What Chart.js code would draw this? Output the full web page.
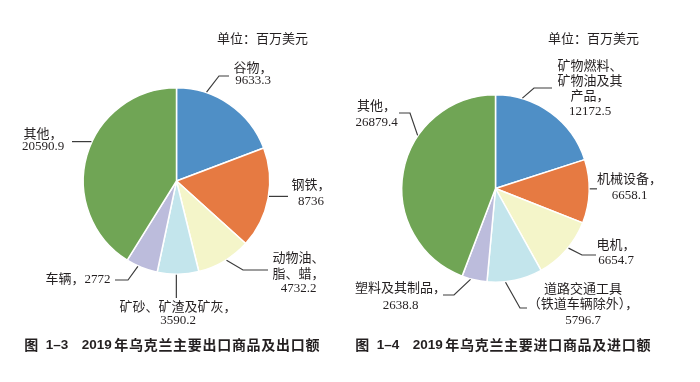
<!DOCTYPE html>
<html>
<head>
<meta charset="utf-8">
<script src="https://cdn.jsdelivr.net/npm/chart.js@4/dist/chart.umd.min.js"></script>
<style>
  html, body { margin: 0; padding: 0; background: #ffffff; }
  #wrap { position: relative; width: 700px; height: 382px; overflow: hidden; background: #fff; }
  canvas { position: absolute; top: 0; }
  #c1 { left: 0; }
  #c2 { left: 350px; }
</style>
</head>
<body>
<div id="wrap">
  <canvas id="c1" width="350" height="382"></canvas>
  <canvas id="c2" width="350" height="382"></canvas>
</div>
<script>
// ---------------- data ----------------
const exportCategories = ['谷物', '钢铁', '动物油、\n脂、蜡', '矿砂、矿渣及矿灰', '车辆', '其他'];
const exportValues = [9633.3, 8736, 4732.2, 3590.2, 2772, 20590.9];
const importCategories = ['矿物燃料、\n矿物油及其\n产品', '机械设备', '电机', '道路交通工具\n（铁道车辆除外）', '塑料及其制品', '其他'];
const importValues = [12172.5, 6658.1, 6654.7, 5796.7, 2638.8, 26879.4];
const unitText = '单位：百万美元';
const exportTitle = ['图', '1–3', '2019', '年乌克兰主要出口商品及出口额'];
const importTitle = ['图', '1–4', '2019', '年乌克兰主要进口商品及进口额'];

// ---------------- style ----------------
const sliceColors = ['#4f8fc6', '#e67a42', '#f4f5c9', '#c3e5ec', '#bcbcdc', '#70a555'];
const LABEL_FONT = "13px 'Liberation Serif', 'Noto Sans CJK SC', serif";
const TITLE_CJK_FONT = "bold 14px 'Noto Sans CJK SC', sans-serif";
const TITLE_NUM_FONT = "bold 13.5px 'Liberation Sans', sans-serif";
const TEXT_COLOR = '#231f20';
const LEADER_COLOR = '#3c3c3c';

// label layout: f = fraction along arc where leader starts, path = leader points ('s' = same as start),
// cx = text centre x, ys = line centre y's
const exportLayout = [
  { f: 0.27, path: [[219, 76], [229, 76]], cx: 253, ys: [68.5, 81] },
  { f: 0.48, path: [[288, 's']], cx: 311, ys: [186, 201.5] },
  { f: 0.46, path: [[243, 270], [268, 270]], cx: 298.5, ys: [259, 275, 289] },
  { f: 0.54, path: [['s', 298]], cx: 178, ys: [308, 321] },
  { f: 0.62, path: [[128, 280], [115, 280]], cx: 78, ys: [280], inline: true },
  { f: 0.56, path: [[72, 's']], cx: 43, ys: [135, 147] }
];
const importLayout = [
  { f: 0.23, path: [[184, 88], [202, 88]], cx: 240, ys: [66.5, 82, 97, 112] },
  { f: 0.46, path: [[247, 's']], cx: 279.5, ys: [179.5, 195.5] },
  { f: 0.45, path: [[232, 255], [246, 255]], cx: 266, ys: [246, 261] },
  { f: 0.67, path: [[170, 308], [177, 308]], cx: 233, ys: [290, 305, 321] },
  { f: 0.65, path: [[104, 295], [93, 295]], cx: 50.5, ys: [289, 305.5] },
  { f: 0.65, path: [[60, 113], [49, 113]], cx: 26.5, ys: [106.7, 123] }
];
const titleX = [24.3, 45.7, 81.7, 114.3];

const pieLabels = {
  id: 'pieLabels',
  afterDraw(chart, args, opts) {
    const ctx = chart.ctx;
    const meta = chart.getDatasetMeta(0);
    const cats = chart.data.labels;
    const vals = chart.data.datasets[0].data;
    ctx.save();
    ctx.fillStyle = TEXT_COLOR;
    ctx.font = LABEL_FONT;
    ctx.textAlign = 'center';
    ctx.textBaseline = 'middle';
    ctx.fillText(unitText, opts.unitX, opts.unitY);

    meta.data.forEach((arc, i) => {
      const L = opts.layout[i];
      const p = arc.getProps(['x', 'y', 'startAngle', 'endAngle', 'outerRadius'], true);
      const a = p.startAngle + (p.endAngle - p.startAngle) * L.f;
      const r = p.outerRadius + 0.5;
      const sx = p.x + Math.cos(a) * r;
      const sy = p.y + Math.sin(a) * r;
      ctx.strokeStyle = LEADER_COLOR;
      ctx.lineWidth = 1.2;
      ctx.beginPath();
      ctx.moveTo(sx, sy);
      L.path.forEach(q => ctx.lineTo(q[0] === 's' ? sx : q[0], q[1] === 's' ? sy : q[1]));
      ctx.stroke();

      let lines;
      if (L.inline) {
        lines = [cats[i] + '，' + String(vals[i])];
      } else {
        lines = cats[i].split('\n');
        lines[lines.length - 1] += '，';
        lines.push(String(vals[i]));
      }
      ctx.fillStyle = TEXT_COLOR;
      lines.forEach((t, k) => ctx.fillText(t, L.cx, L.ys[k]));
    });

    ctx.textAlign = 'left';
    ctx.fillStyle = TEXT_COLOR;
    opts.title.forEach((t, k) => {
      const isNum = /^[0-9–]+$/.test(t);
      ctx.font = isNum ? TITLE_NUM_FONT : TITLE_CJK_FONT;
      ctx.letterSpacing = isNum ? '0px' : '0.7px';
      ctx.fillText(t, titleX[k] + opts.titleShift, 345);
    });
    ctx.letterSpacing = '0px';
    ctx.restore();
  }
};

function makePie(id, cats, vals, padding, layout, title, titleShift, unitX) {
  return new Chart(document.getElementById(id), {
    type: 'pie',
    data: {
      labels: cats,
      datasets: [{
        data: vals,
        backgroundColor: sliceColors,
        borderColor: '#ffffff',
        borderWidth: 1.5
      }]
    },
    options: {
      responsive: false,
      animation: false,
      layout: { padding: padding },
      plugins: {
        legend: { display: false },
        tooltip: { enabled: false },
        pieLabels: { layout: layout, title: title, titleShift: titleShift, unitX: unitX, unitY: 40 }
      }
    },
    plugins: [pieLabels]
  });
}

makePie('c1', exportCategories, exportValues, { left: 82, top: 87, right: 79, bottom: 107 }, exportLayout, exportTitle, 0, 262.5);
makePie('c2', importCategories, importValues, { left: 51, top: 94, right: 110, bottom: 99 }, importLayout, importTitle, -19, 243.5);
</script>
</body>
</html>
